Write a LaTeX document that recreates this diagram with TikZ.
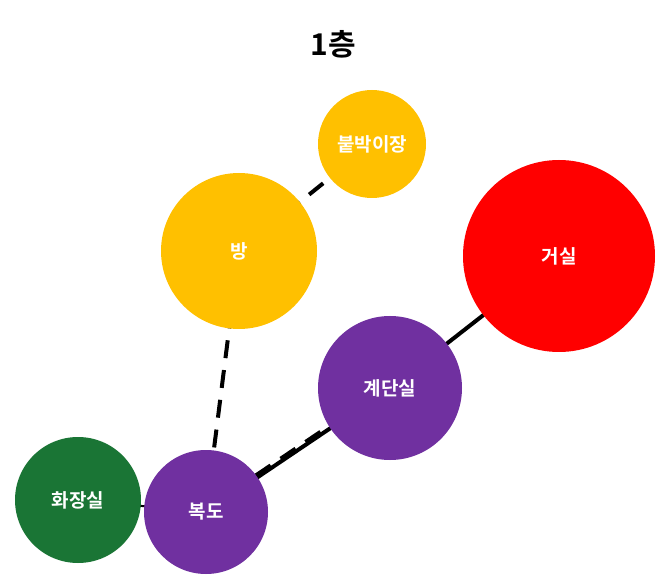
\documentclass[tikz,border=0pt]{standalone}
\usepackage{fontspec}
\newfontfamily\kr{Noto Sans CJK KR}[BoldFont={* Bold}]
\definecolor{gold}{HTML}{FFC000}
\definecolor{purp}{HTML}{7030A0}
\definecolor{grn}{HTML}{1A7535}
\definecolor{redc}{HTML}{FF0000}
\tikzset{
  room/.style={circle, inner sep=0pt, text=white, font=\kr\bfseries\fontsize{19}{22}\selectfont},
  link/.style={line width=4pt, black},
  dlink/.style={line width=4pt, black, dash pattern=on 18pt off 12pt},
}
\begin{document}
\begin{tikzpicture}[x=1pt,y=-1pt]
\useasboundingbox (0,0) rectangle (670,588);
\fill[white] (0,0) rectangle (670,588);
\node[font=\kr\bfseries\fontsize{30}{34}\selectfont] (title) at (333,44) {1층};
% node centers
\coordinate (cBB) at (372,144);
\coordinate (cBang) at (239,251);
\coordinate (cGS) at (559,256);
\coordinate (cGD) at (390,388);
\coordinate (cHJ) at (78,500);
\coordinate (cBD) at (206,512);
% connectors
\draw[dlink] (cBang) -- (cBB);
\draw[dlink] (cBang) -- (cBD);
\draw[link] (cGD) -- (cGS);
\draw[link, line width=2pt] (cHJ) -- (cBD);
\draw[link] (cBD) -- (cGD);
\draw[dlink] ([yshift=3pt]cBD) -- ([yshift=3pt]cGD);
% rooms
\node[room, fill=gold, minimum size=108pt] (bb) at (cBB) {붙박이장};
\node[room, fill=gold, minimum size=156pt] (bang) at (cBang) {방};
\node[room, fill=redc, minimum size=192pt] (gs) at (cGS) {거실};
\node[room, fill=purp, minimum size=144pt] (gd) at (cGD) {계단실};
\node[room, fill=grn, minimum size=126pt] (hj) at (cHJ) {화장실};
\node[room, fill=purp, minimum size=124pt] (bd) at (cBD) {복도};
\end{tikzpicture}
\end{document}
